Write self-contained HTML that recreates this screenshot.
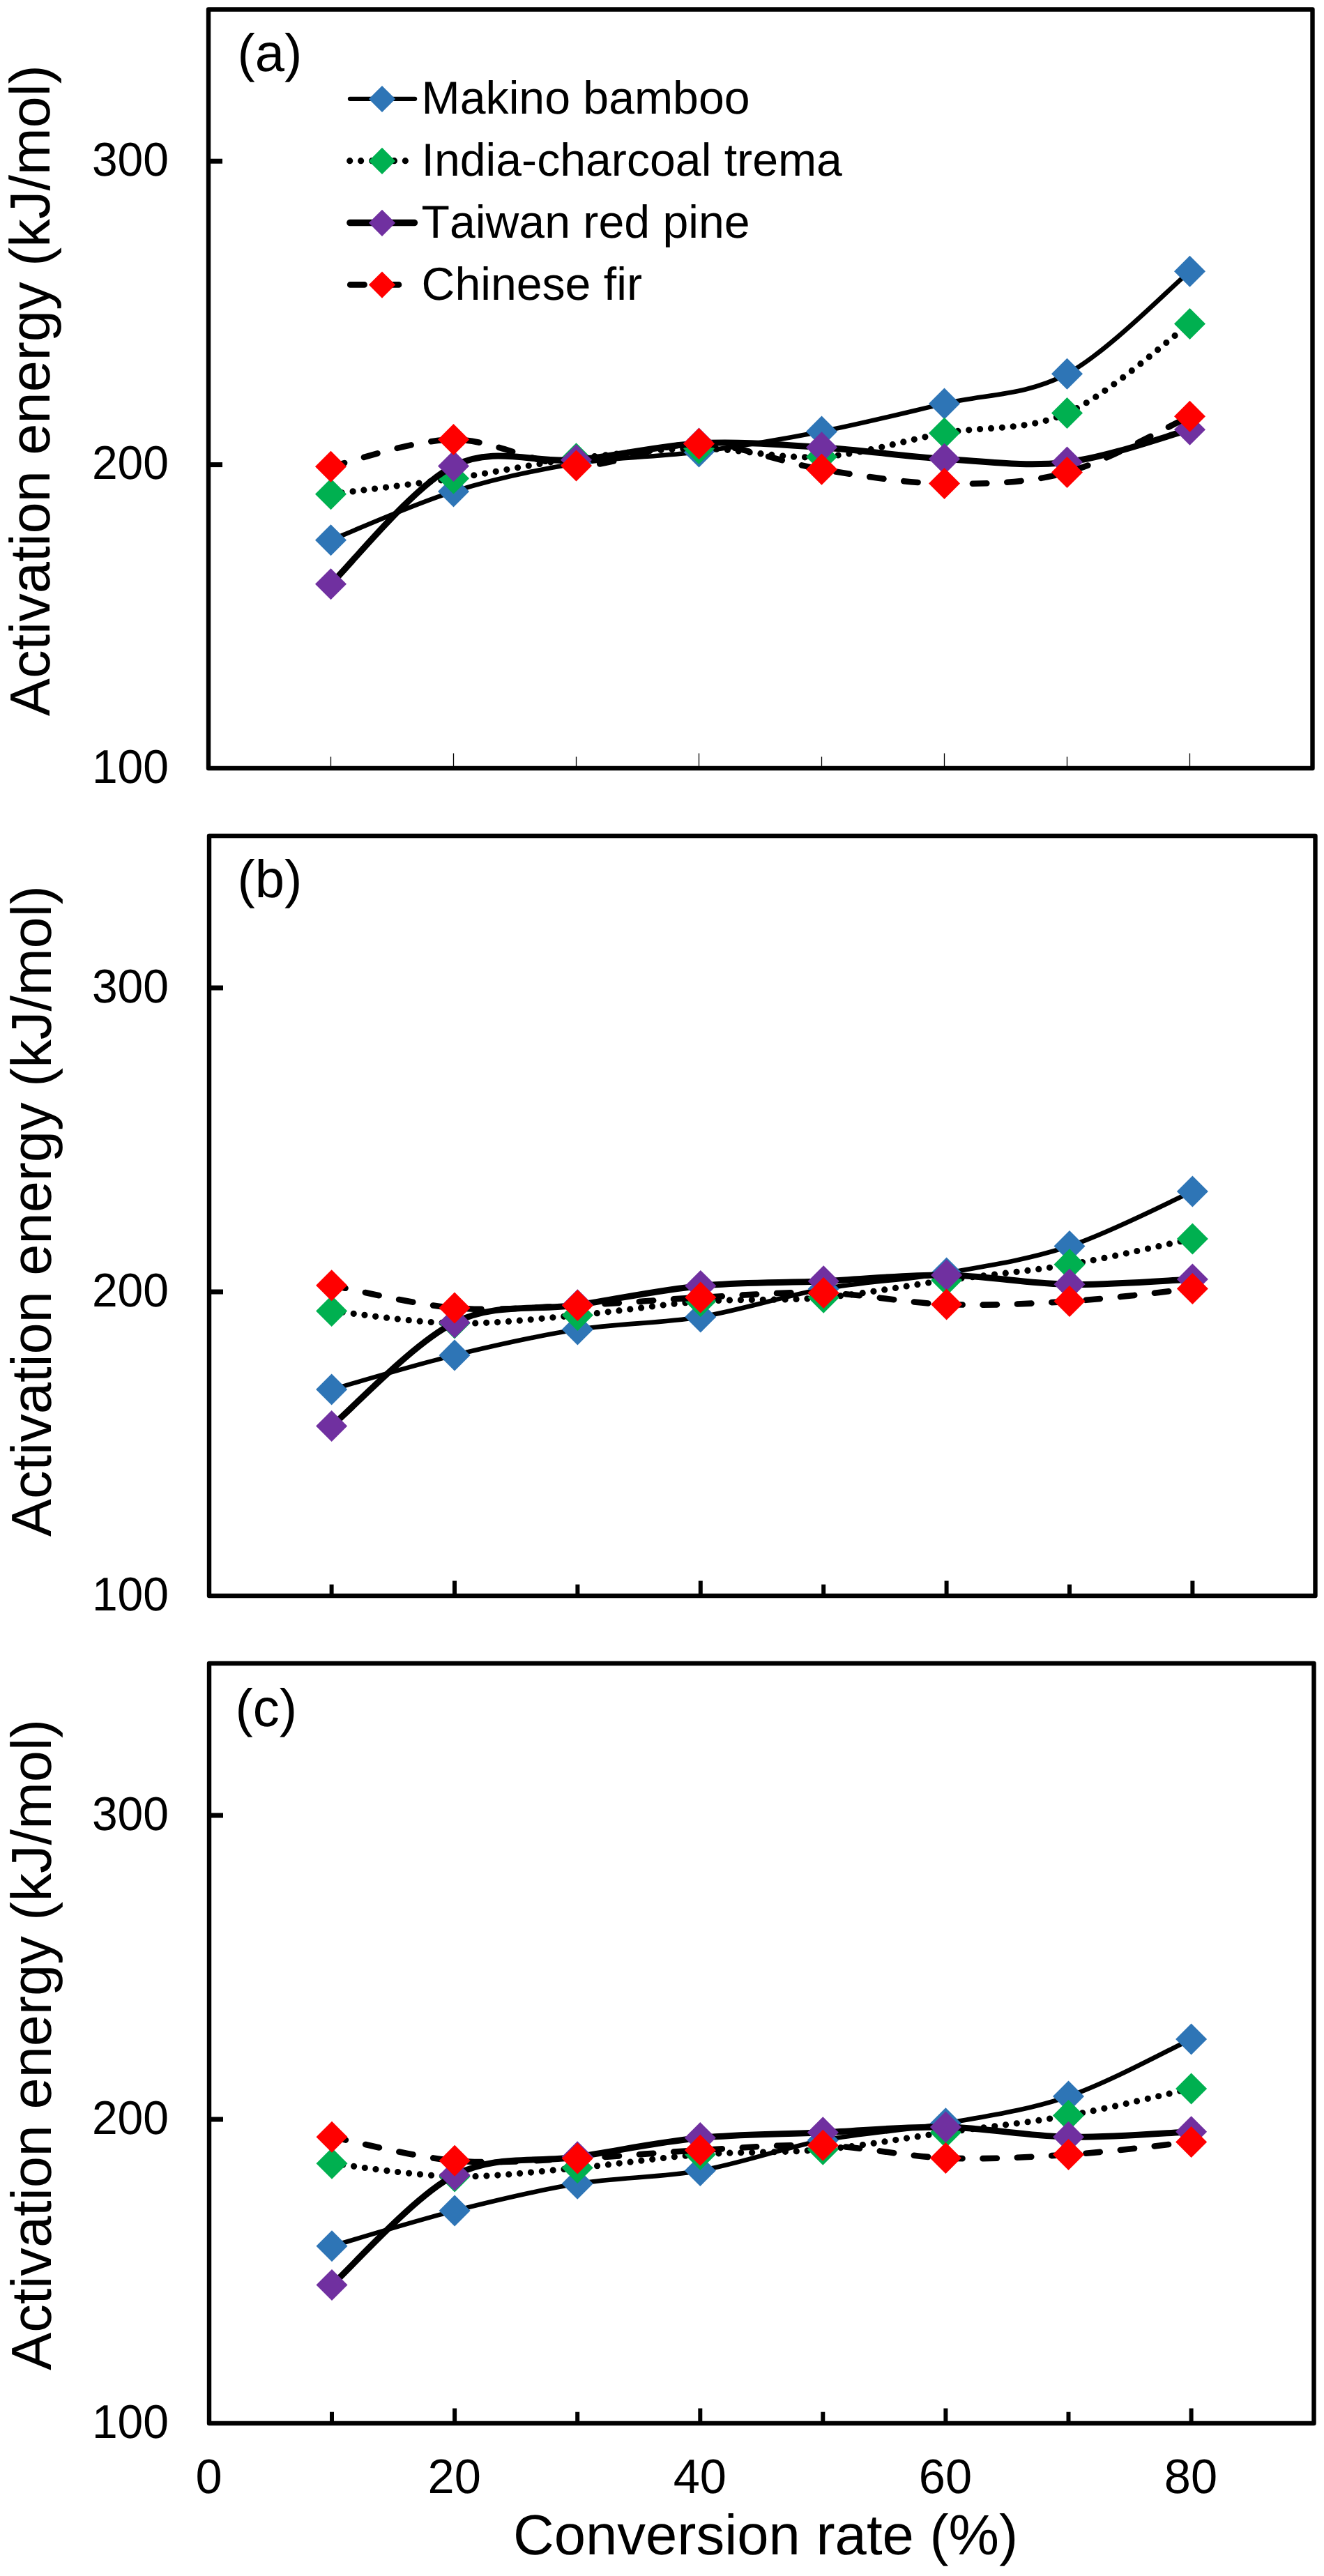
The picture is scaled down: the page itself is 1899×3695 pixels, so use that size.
<!DOCTYPE html>
<html lang="en"><head><meta charset="utf-8"><title>Activation energy vs conversion rate</title>
<style>
html,body{margin:0;padding:0;background:#fff}
body{width:1899px;height:3695px;overflow:hidden}
svg{display:block}
text{font-family:"Liberation Sans",Arial,Helvetica,sans-serif;fill:#000;font-kerning:none;font-variant-ligatures:none;text-rendering:geometricPrecision}
.tk{font-size:66.0px}
.xk{font-size:68.6px}
.lg{font-size:66.2px}
.pn{font-size:76.0px}
.tt{font-size:81.45px}.ty{font-size:81.2px}
.fr{fill:none;stroke:#000;stroke-width:6.4;stroke-linejoin:round}
.yt{stroke:#000;stroke-width:7}
.xt{stroke:#000;stroke-width:6}
.xn{stroke:#000;stroke-width:1.3}
.lb{fill:none;stroke:#000;stroke-width:6.6;stroke-linecap:round;stroke-linejoin:round}
.kb{fill:none;stroke:#000;stroke-width:6.3;stroke-linecap:round}.kp{fill:none;stroke:#000;stroke-width:9.5;stroke-linecap:round}
.lgn{fill:none;stroke:#000;stroke-width:9.2;stroke-linecap:round;stroke-dasharray:0 15.93}
.lp{fill:none;stroke:#000;stroke-width:9;stroke-linecap:round;stroke-linejoin:round}
.lr{fill:none;stroke:#000;stroke-width:8.6;stroke-linecap:round;stroke-dasharray:20.4 29}
.mb{fill:#2E75B6}.mg{fill:#00B050}.mp{fill:#7030A0}.mr{fill:#FF0000}
</style></head><body>
<svg width="1899" height="3695" viewBox="0 0 1899 3695">
<rect width="1899" height="3695" fill="#fff"/>
<g>
<path class="lb" d="M474.5 774.7C503.8 763.1 591.8 723.4 650.5 705.1C709.2 686.8 767.8 674.3 826.5 664.8C885.2 655.3 943.8 655.5 1002.5 647.9C1061.2 640.3 1119.8 630.5 1178.5 619C1237.2 607.5 1295.8 592.7 1354.5 578.9C1413.2 565.1 1471.8 567.8 1530.5 536.2C1589.2 504.6 1677.2 413.7 1706.5 389.2"/>
<path class="mb" d="M474.5 752.2l22.5 22.5l-22.5 22.5l-22.5 -22.5z"/>
<path class="mb" d="M650.5 682.6l22.5 22.5l-22.5 22.5l-22.5 -22.5z"/>
<path class="mb" d="M826.5 642.3l22.5 22.5l-22.5 22.5l-22.5 -22.5z"/>
<path class="mb" d="M1002.5 625.4l22.5 22.5l-22.5 22.5l-22.5 -22.5z"/>
<path class="mb" d="M1178.5 596.5l22.5 22.5l-22.5 22.5l-22.5 -22.5z"/>
<path class="mb" d="M1354.5 556.4l22.5 22.5l-22.5 22.5l-22.5 -22.5z"/>
<path class="mb" d="M1530.5 513.7l22.5 22.5l-22.5 22.5l-22.5 -22.5z"/>
<path class="mb" d="M1706.5 366.7l22.5 22.5l-22.5 22.5l-22.5 -22.5z"/>
<path class="lgn" d="M474.5 708.8C503.8 705 591.8 694.8 650.5 686.3C709.2 677.8 767.8 664.9 826.5 657.7C885.2 650.6 943.8 643.8 1002.5 643.4C1061.2 643 1119.8 659 1178.5 655.3C1237.2 651.6 1295.8 631.8 1354.5 621.3C1413.2 610.8 1471.8 618.8 1530.5 592.6C1589.2 566.5 1677.2 485.8 1706.5 464.4"/>
<path class="mg" d="M474.5 686.3l22.5 22.5l-22.5 22.5l-22.5 -22.5z"/>
<path class="mg" d="M650.5 663.8l22.5 22.5l-22.5 22.5l-22.5 -22.5z"/>
<path class="mg" d="M826.5 635.2l22.5 22.5l-22.5 22.5l-22.5 -22.5z"/>
<path class="mg" d="M1002.5 620.9l22.5 22.5l-22.5 22.5l-22.5 -22.5z"/>
<path class="mg" d="M1178.5 632.8l22.5 22.5l-22.5 22.5l-22.5 -22.5z"/>
<path class="mg" d="M1354.5 598.8l22.5 22.5l-22.5 22.5l-22.5 -22.5z"/>
<path class="mg" d="M1530.5 570.1l22.5 22.5l-22.5 22.5l-22.5 -22.5z"/>
<path class="mg" d="M1706.5 441.9l22.5 22.5l-22.5 22.5l-22.5 -22.5z"/>
<path class="lp" d="M474.5 837.7C503.8 809.5 591.8 698.1 650.5 668.4C709.2 638.7 767.8 665.1 826.5 659.7C885.2 654.3 943.8 638.9 1002.5 635.9C1061.2 632.9 1119.8 638 1178.5 641.7C1237.2 645.4 1295.8 654.7 1354.5 658.2C1413.2 661.7 1471.8 669.9 1530.5 662.9C1589.2 655.9 1677.2 624 1706.5 616.2"/>
<path class="mp" d="M474.5 815.2l22.5 22.5l-22.5 22.5l-22.5 -22.5z"/>
<path class="mp" d="M650.5 645.9l22.5 22.5l-22.5 22.5l-22.5 -22.5z"/>
<path class="mp" d="M826.5 637.2l22.5 22.5l-22.5 22.5l-22.5 -22.5z"/>
<path class="mp" d="M1002.5 613.4l22.5 22.5l-22.5 22.5l-22.5 -22.5z"/>
<path class="mp" d="M1178.5 619.2l22.5 22.5l-22.5 22.5l-22.5 -22.5z"/>
<path class="mp" d="M1354.5 635.7l22.5 22.5l-22.5 22.5l-22.5 -22.5z"/>
<path class="mp" d="M1530.5 640.4l22.5 22.5l-22.5 22.5l-22.5 -22.5z"/>
<path class="mp" d="M1706.5 593.7l22.5 22.5l-22.5 22.5l-22.5 -22.5z"/>
<path class="lr" d="M474.5 669.3C503.8 662.8 591.8 630.8 650.5 630.6C709.2 630.4 767.8 667.1 826.5 668.1C885.2 669.1 943.8 635.8 1002.5 636.6C1061.2 637.5 1119.8 663.7 1178.5 673.2C1237.2 682.7 1295.8 692.9 1354.5 693.6C1413.2 694.3 1471.8 693.7 1530.5 677.6C1589.2 661.5 1677.2 610.6 1706.5 597.2"/>
<path class="mr" d="M474.5 646.8l22.5 22.5l-22.5 22.5l-22.5 -22.5z"/>
<path class="mr" d="M650.5 608.1l22.5 22.5l-22.5 22.5l-22.5 -22.5z"/>
<path class="mr" d="M826.5 645.6l22.5 22.5l-22.5 22.5l-22.5 -22.5z"/>
<path class="mr" d="M1002.5 614.1l22.5 22.5l-22.5 22.5l-22.5 -22.5z"/>
<path class="mr" d="M1178.5 650.7l22.5 22.5l-22.5 22.5l-22.5 -22.5z"/>
<path class="mr" d="M1354.5 671.1l22.5 22.5l-22.5 22.5l-22.5 -22.5z"/>
<path class="mr" d="M1530.5 655.1l22.5 22.5l-22.5 22.5l-22.5 -22.5z"/>
<path class="mr" d="M1706.5 574.7l22.5 22.5l-22.5 22.5l-22.5 -22.5z"/>
<rect class="fr" x="299" y="13.5" width="1583.5" height="1088.5"/>
<line class="yt" x1="299" y1="666.6" x2="319" y2="666.6"/>
<line class="yt" x1="299" y1="231.2" x2="319" y2="231.2"/>
<text class="tk" text-anchor="end" transform="translate(242 1122.6) scale(1 1.03)">100</text>
<text class="tk" text-anchor="end" transform="translate(242 687.2) scale(1 1.03)">200</text>
<text class="tk" text-anchor="end" transform="translate(242 251.8) scale(1 1.03)">300</text>
<line class="xn" x1="474.5" y1="1085.5" x2="474.5" y2="1102"/>
<line class="xn" x1="650.5" y1="1080.5" x2="650.5" y2="1102"/>
<line class="xn" x1="826.5" y1="1085.5" x2="826.5" y2="1102"/>
<line class="xn" x1="1002.5" y1="1080.5" x2="1002.5" y2="1102"/>
<line class="xn" x1="1178.5" y1="1085.5" x2="1178.5" y2="1102"/>
<line class="xn" x1="1354.5" y1="1080.5" x2="1354.5" y2="1102"/>
<line class="xn" x1="1530.5" y1="1085.5" x2="1530.5" y2="1102"/>
<line class="xn" x1="1706.5" y1="1080.5" x2="1706.5" y2="1102"/>
<text class="pn" x="340.4" y="102">(a)</text>
<text class="ty" text-anchor="middle" transform="translate(71 560.2) rotate(-90)">Activation energy (kJ/mol)</text>
</g>
<g>
<path class="lb" d="M475.6 1993.1C505 1984.9 593.2 1958.2 652 1943.9C710.8 1929.6 769.6 1916.2 828.4 1907.1C887.2 1897.9 946 1898.7 1004.8 1889C1063.6 1879.3 1122.4 1859.3 1181.2 1848.8C1240 1838.3 1298.8 1836.1 1357.6 1825.9C1416.4 1815.7 1475.2 1807 1534 1787.5C1592.8 1768 1681 1722.2 1710.4 1709.1"/>
<path class="mb" d="M475.6 1970.6l22.5 22.5l-22.5 22.5l-22.5 -22.5z"/>
<path class="mb" d="M652 1921.4l22.5 22.5l-22.5 22.5l-22.5 -22.5z"/>
<path class="mb" d="M828.4 1884.6l22.5 22.5l-22.5 22.5l-22.5 -22.5z"/>
<path class="mb" d="M1004.8 1866.5l22.5 22.5l-22.5 22.5l-22.5 -22.5z"/>
<path class="mb" d="M1181.2 1826.3l22.5 22.5l-22.5 22.5l-22.5 -22.5z"/>
<path class="mb" d="M1357.6 1803.4l22.5 22.5l-22.5 22.5l-22.5 -22.5z"/>
<path class="mb" d="M1534 1765l22.5 22.5l-22.5 22.5l-22.5 -22.5z"/>
<path class="mb" d="M1710.4 1686.6l22.5 22.5l-22.5 22.5l-22.5 -22.5z"/>
<path class="lgn" d="M475.6 1880.4C505 1883.4 593.2 1897.1 652 1898.1C710.8 1899.1 769.6 1891.7 828.4 1886.5C887.2 1881.3 946 1871 1004.8 1866.8C1063.6 1862.6 1122.4 1866.3 1181.2 1861.2C1240 1856.1 1298.8 1844.2 1357.6 1836.3C1416.4 1828.4 1475.2 1823.7 1534 1813.8C1592.8 1803.9 1681 1783.1 1710.4 1776.9"/>
<path class="mg" d="M475.6 1857.9l22.5 22.5l-22.5 22.5l-22.5 -22.5z"/>
<path class="mg" d="M652 1875.6l22.5 22.5l-22.5 22.5l-22.5 -22.5z"/>
<path class="mg" d="M828.4 1864l22.5 22.5l-22.5 22.5l-22.5 -22.5z"/>
<path class="mg" d="M1004.8 1844.3l22.5 22.5l-22.5 22.5l-22.5 -22.5z"/>
<path class="mg" d="M1181.2 1838.7l22.5 22.5l-22.5 22.5l-22.5 -22.5z"/>
<path class="mg" d="M1357.6 1813.8l22.5 22.5l-22.5 22.5l-22.5 -22.5z"/>
<path class="mg" d="M1534 1791.3l22.5 22.5l-22.5 22.5l-22.5 -22.5z"/>
<path class="mg" d="M1710.4 1754.4l22.5 22.5l-22.5 22.5l-22.5 -22.5z"/>
<path class="lp" d="M475.6 2045.6C505 2020.8 593.2 1926 652 1897C710.8 1868 769.6 1880.6 828.4 1871.8C887.2 1863 946 1850.1 1004.8 1844.4C1063.6 1838.7 1122.4 1840.3 1181.2 1837.7C1240 1835.1 1298.8 1828.2 1357.6 1829C1416.4 1829.8 1475.2 1841.3 1534 1842.3C1592.8 1843.3 1681 1836.1 1710.4 1834.9"/>
<path class="mp" d="M475.6 2023.1l22.5 22.5l-22.5 22.5l-22.5 -22.5z"/>
<path class="mp" d="M652 1874.5l22.5 22.5l-22.5 22.5l-22.5 -22.5z"/>
<path class="mp" d="M828.4 1849.3l22.5 22.5l-22.5 22.5l-22.5 -22.5z"/>
<path class="mp" d="M1004.8 1821.9l22.5 22.5l-22.5 22.5l-22.5 -22.5z"/>
<path class="mp" d="M1181.2 1815.2l22.5 22.5l-22.5 22.5l-22.5 -22.5z"/>
<path class="mp" d="M1357.6 1806.5l22.5 22.5l-22.5 22.5l-22.5 -22.5z"/>
<path class="mp" d="M1534 1819.8l22.5 22.5l-22.5 22.5l-22.5 -22.5z"/>
<path class="mp" d="M1710.4 1812.4l22.5 22.5l-22.5 22.5l-22.5 -22.5z"/>
<path class="lr" d="M475.6 1843.7C505 1849.1 593.2 1871.3 652 1876.1C710.8 1880.9 769.6 1874.9 828.4 1872.4C887.2 1869.9 946 1864.1 1004.8 1861.1C1063.6 1858.1 1122.4 1852.8 1181.2 1854.4C1240 1856.1 1298.8 1869 1357.6 1871C1416.4 1873 1475.2 1870.3 1534 1866.6C1592.8 1862.8 1681 1851.5 1710.4 1848.5"/>
<path class="mr" d="M475.6 1821.2l22.5 22.5l-22.5 22.5l-22.5 -22.5z"/>
<path class="mr" d="M652 1853.6l22.5 22.5l-22.5 22.5l-22.5 -22.5z"/>
<path class="mr" d="M828.4 1849.9l22.5 22.5l-22.5 22.5l-22.5 -22.5z"/>
<path class="mr" d="M1004.8 1838.6l22.5 22.5l-22.5 22.5l-22.5 -22.5z"/>
<path class="mr" d="M1181.2 1831.9l22.5 22.5l-22.5 22.5l-22.5 -22.5z"/>
<path class="mr" d="M1357.6 1848.5l22.5 22.5l-22.5 22.5l-22.5 -22.5z"/>
<path class="mr" d="M1534 1844.1l22.5 22.5l-22.5 22.5l-22.5 -22.5z"/>
<path class="mr" d="M1710.4 1826l22.5 22.5l-22.5 22.5l-22.5 -22.5z"/>
<rect class="fr" x="300" y="1199" width="1586.5" height="1090"/>
<line class="yt" x1="300" y1="1853" x2="320" y2="1853"/>
<line class="yt" x1="300" y1="1417" x2="320" y2="1417"/>
<text class="tk" text-anchor="end" transform="translate(242 2309.6) scale(1 1.03)">100</text>
<text class="tk" text-anchor="end" transform="translate(242 1873.6) scale(1 1.03)">200</text>
<text class="tk" text-anchor="end" transform="translate(242 1437.6) scale(1 1.03)">300</text>
<line class="xt" x1="475.6" y1="2272.7" x2="475.6" y2="2289"/>
<line class="xt" x1="652" y1="2267.5" x2="652" y2="2289"/>
<line class="xt" x1="828.4" y1="2272.7" x2="828.4" y2="2289"/>
<line class="xt" x1="1004.8" y1="2267.5" x2="1004.8" y2="2289"/>
<line class="xt" x1="1181.2" y1="2272.7" x2="1181.2" y2="2289"/>
<line class="xt" x1="1357.6" y1="2267.5" x2="1357.6" y2="2289"/>
<line class="xt" x1="1534" y1="2272.7" x2="1534" y2="2289"/>
<line class="xt" x1="1710.4" y1="2267.5" x2="1710.4" y2="2289"/>
<text class="pn" x="340.4" y="1286.5">(b)</text>
<text class="ty" text-anchor="middle" transform="translate(72.9 1737.2) rotate(-90)">Activation energy (kJ/mol)</text>
</g>
<g>
<path class="lb" d="M476 3221.8C505.3 3213.4 593.4 3186 652.1 3171.1C710.8 3156.2 769.5 3141.9 828.2 3132.3C886.9 3122.7 945.6 3123.9 1004.3 3113.5C1063 3103.1 1121.7 3081.4 1180.3 3070.1C1239 3058.8 1297.7 3056.3 1356.4 3045.8C1415.1 3035.3 1473.8 3027.2 1532.5 3007C1591.2 2986.8 1679.3 2938.6 1708.6 2924.9"/>
<path class="mb" d="M476 3199.3l22.5 22.5l-22.5 22.5l-22.5 -22.5z"/>
<path class="mb" d="M652.1 3148.6l22.5 22.5l-22.5 22.5l-22.5 -22.5z"/>
<path class="mb" d="M828.2 3109.8l22.5 22.5l-22.5 22.5l-22.5 -22.5z"/>
<path class="mb" d="M1004.3 3091l22.5 22.5l-22.5 22.5l-22.5 -22.5z"/>
<path class="mb" d="M1180.3 3047.6l22.5 22.5l-22.5 22.5l-22.5 -22.5z"/>
<path class="mb" d="M1356.4 3023.3l22.5 22.5l-22.5 22.5l-22.5 -22.5z"/>
<path class="mb" d="M1532.5 2984.5l22.5 22.5l-22.5 22.5l-22.5 -22.5z"/>
<path class="mb" d="M1708.6 2902.4l22.5 22.5l-22.5 22.5l-22.5 -22.5z"/>
<path class="lgn" d="M476 3103.3C505.3 3106.4 593.4 3120.9 652.1 3121.9C710.8 3122.9 769.5 3114.8 828.2 3109.6C886.9 3104.3 945.6 3094.8 1004.3 3090.4C1063 3086 1121.7 3088.5 1180.3 3083.2C1239 3077.9 1297.7 3066.9 1356.4 3058.8C1415.1 3050.7 1473.8 3045.1 1532.5 3034.6C1591.2 3024.1 1679.3 3002.3 1708.6 2995.9"/>
<path class="mg" d="M476 3080.8l22.5 22.5l-22.5 22.5l-22.5 -22.5z"/>
<path class="mg" d="M652.1 3099.4l22.5 22.5l-22.5 22.5l-22.5 -22.5z"/>
<path class="mg" d="M828.2 3087.1l22.5 22.5l-22.5 22.5l-22.5 -22.5z"/>
<path class="mg" d="M1004.3 3067.9l22.5 22.5l-22.5 22.5l-22.5 -22.5z"/>
<path class="mg" d="M1180.3 3060.7l22.5 22.5l-22.5 22.5l-22.5 -22.5z"/>
<path class="mg" d="M1356.4 3036.3l22.5 22.5l-22.5 22.5l-22.5 -22.5z"/>
<path class="mg" d="M1532.5 3012.1l22.5 22.5l-22.5 22.5l-22.5 -22.5z"/>
<path class="mg" d="M1708.6 2973.4l22.5 22.5l-22.5 22.5l-22.5 -22.5z"/>
<path class="lp" d="M476 3277.6C505.3 3251.3 593.4 3150.7 652.1 3120.1C710.8 3089.5 769.5 3102.7 828.2 3093.8C886.9 3084.9 945.6 3072.4 1004.3 3066.6C1063 3060.8 1121.7 3061.4 1180.3 3058.8C1239 3056.2 1297.7 3050 1356.4 3051.1C1415.1 3052.2 1473.8 3064.1 1532.5 3065.2C1591.2 3066.3 1679.3 3058.9 1708.6 3057.7"/>
<path class="mp" d="M476 3255.1l22.5 22.5l-22.5 22.5l-22.5 -22.5z"/>
<path class="mp" d="M652.1 3097.6l22.5 22.5l-22.5 22.5l-22.5 -22.5z"/>
<path class="mp" d="M828.2 3071.3l22.5 22.5l-22.5 22.5l-22.5 -22.5z"/>
<path class="mp" d="M1004.3 3044.1l22.5 22.5l-22.5 22.5l-22.5 -22.5z"/>
<path class="mp" d="M1180.3 3036.3l22.5 22.5l-22.5 22.5l-22.5 -22.5z"/>
<path class="mp" d="M1356.4 3028.6l22.5 22.5l-22.5 22.5l-22.5 -22.5z"/>
<path class="mp" d="M1532.5 3042.7l22.5 22.5l-22.5 22.5l-22.5 -22.5z"/>
<path class="mp" d="M1708.6 3035.2l22.5 22.5l-22.5 22.5l-22.5 -22.5z"/>
<path class="lr" d="M476 3065.3C505.3 3071 593.4 3094.1 652.1 3099.2C710.8 3104.3 769.5 3098.5 828.2 3096C886.9 3093.5 945.6 3087.3 1004.3 3084.2C1063 3081.1 1121.7 3075.4 1180.3 3077.3C1239 3079.2 1297.7 3093.3 1356.4 3095.5C1415.1 3097.7 1473.8 3094.4 1532.5 3090.6C1591.2 3086.8 1679.3 3075.4 1708.6 3072.4"/>
<path class="mr" d="M476 3042.8l22.5 22.5l-22.5 22.5l-22.5 -22.5z"/>
<path class="mr" d="M652.1 3076.7l22.5 22.5l-22.5 22.5l-22.5 -22.5z"/>
<path class="mr" d="M828.2 3073.5l22.5 22.5l-22.5 22.5l-22.5 -22.5z"/>
<path class="mr" d="M1004.3 3061.7l22.5 22.5l-22.5 22.5l-22.5 -22.5z"/>
<path class="mr" d="M1180.3 3054.8l22.5 22.5l-22.5 22.5l-22.5 -22.5z"/>
<path class="mr" d="M1356.4 3073l22.5 22.5l-22.5 22.5l-22.5 -22.5z"/>
<path class="mr" d="M1532.5 3068.1l22.5 22.5l-22.5 22.5l-22.5 -22.5z"/>
<path class="mr" d="M1708.6 3049.9l22.5 22.5l-22.5 22.5l-22.5 -22.5z"/>
<rect class="fr" x="300" y="2386" width="1584.5" height="1090"/>
<line class="yt" x1="300" y1="3040" x2="320" y2="3040"/>
<line class="yt" x1="300" y1="2604" x2="320" y2="2604"/>
<text class="tk" text-anchor="end" transform="translate(242 3496.6) scale(1 1.03)">100</text>
<text class="tk" text-anchor="end" transform="translate(242 3060.6) scale(1 1.03)">200</text>
<text class="tk" text-anchor="end" transform="translate(242 2624.6) scale(1 1.03)">300</text>
<line class="xt" x1="476" y1="3459.7" x2="476" y2="3476"/>
<line class="xt" x1="652.1" y1="3454.5" x2="652.1" y2="3476"/>
<line class="xt" x1="828.2" y1="3459.7" x2="828.2" y2="3476"/>
<line class="xt" x1="1004.3" y1="3454.5" x2="1004.3" y2="3476"/>
<line class="xt" x1="1180.3" y1="3459.7" x2="1180.3" y2="3476"/>
<line class="xt" x1="1356.4" y1="3454.5" x2="1356.4" y2="3476"/>
<line class="xt" x1="1532.5" y1="3459.7" x2="1532.5" y2="3476"/>
<line class="xt" x1="1708.6" y1="3454.5" x2="1708.6" y2="3476"/>
<text class="pn" x="337.5" y="2476">(c)</text>
<text class="ty" text-anchor="middle" transform="translate(72.9 2933) rotate(-90)">Activation energy (kJ/mol)</text>
</g>
<text class="xk" text-anchor="middle" transform="translate(299.6 3576) scale(1 1.015)">0</text>
<text class="xk" text-anchor="middle" transform="translate(651.7 3576) scale(1 1.015)">20</text>
<text class="xk" text-anchor="middle" transform="translate(1003.8 3576) scale(1 1.015)">40</text>
<text class="xk" text-anchor="middle" transform="translate(1355.9 3576) scale(1 1.015)">60</text>
<text class="xk" text-anchor="middle" transform="translate(1708 3576) scale(1 1.015)">80</text>
<text class="tt" text-anchor="middle" x="1098" y="3663.6">Conversion rate (%)</text>
<path class="kb" d="M502 141.8H595.1"/>
<path class="mb" d="M548 122.9l19.1 19.1l-19.1 19.1l-19.1 -19.1z"/>
<text class="lg" x="604.6" y="162.8">Makino bamboo</text>
<path class="lgn" d="M501.7 230.7H583"/>
<path class="mg" d="M548 211.8l19.1 19.1l-19.1 19.1l-19.1 -19.1z"/>
<text class="lg" x="604.6" y="252">India-charcoal trema</text>
<path class="kp" d="M501.9 319.6H594.4"/>
<path class="mp" d="M548 300.7l19.1 19.1l-19.1 19.1l-19.1 -19.1z"/>
<text class="lg" x="604.6" y="341.1">Taiwan red pine</text>
<path class="lr" d="M502.2 408.4H572"/>
<path class="mr" d="M548 389.5l19.1 19.1l-19.1 19.1l-19.1 -19.1z"/>
<text class="lg" x="604.6" y="430.2">Chinese fir</text>
</svg></body></html>
